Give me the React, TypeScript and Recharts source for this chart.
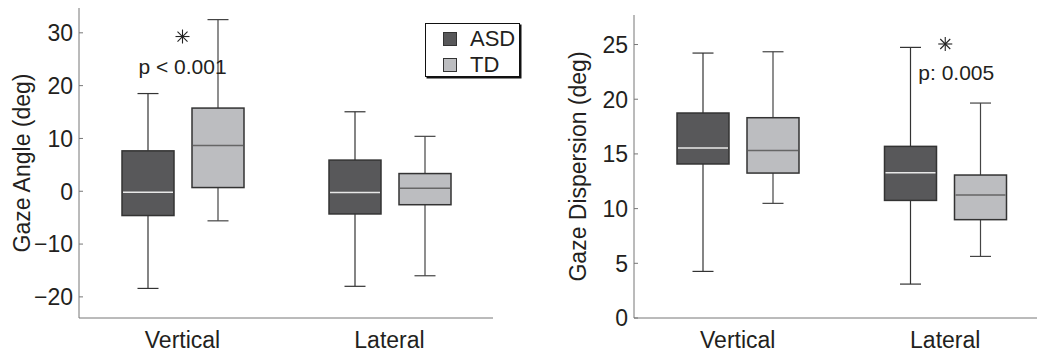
import { BarChart, Bar, XAxis, YAxis, ReferenceDot } from 'recharts'

// box stats per category: [min, q1, median, q3, max]
const categories = ['Vertical', 'Lateral']

const angleAsd = [
  [-18.4, -4.6, -0.2, 7.65, 18.5],
  [-18.0, -4.3, -0.25, 5.9, 15.05],
]
const angleTd = [
  [-5.6, 0.7, 8.65, 15.75, 32.5],
  [-16.0, -2.55, 0.55, 3.35, 10.4],
]
const dispAsd = [
  [4.26, 14.08, 15.54, 18.74, 24.22],
  [3.1, 10.75, 13.28, 15.69, 24.74],
]
const dispTd = [
  [10.48, 13.25, 15.32, 18.31, 24.34],
  [5.63, 8.99, 11.24, 13.07, 19.65],
]

const angleTicks = [-20, -10, 0, 10, 20, 30]
const dispTicks = [0, 5, 10, 15, 20, 25]

const groups = ['ASD', 'TD']

// significance markers: category, star value, p text, text value
const angleSig = [{ cat: 'Vertical', star: 29.3, text: 'p < 0.001', textY: 22.2 }]
const dispSig = [{ cat: 'Lateral', star: 25.05, text: 'p: 0.005', textY: 21.75 }]

const FONT = '"Liberation Sans", Arial, sans-serif'
const INK = '#231f20'
const ASD_FILL = '#58585a'
const TD_FILL = '#bcbdc0'
const AXIS = '#777'

function buildRows(asd: number[][], td: number[][]) {
  return categories.map((c, i) => ({
    cat: c,
    asd: [asd[i][0], asd[i][4]],
    td: [td[i][0], td[i][4]],
    asdStats: asd[i],
    tdStats: td[i],
  }))
}

function BoxShape(props: any) {
  const { x, y, width, height, payload, statsKey, fill, median, whisker } = props
  const [mn, q1, med, q3, mx] = payload[statsKey] as number[]
  const py = (v: number) => y + ((mx - v) / (mx - mn)) * height
  const cx = x + width / 2
  const cap = 10.5
  return (
    <g>
      <line x1={cx} x2={cx} y1={py(mx)} y2={py(q3)} stroke={whisker} strokeWidth={1.2} />
      <line x1={cx} x2={cx} y1={py(q1)} y2={py(mn)} stroke={whisker} strokeWidth={1.2} />
      <line x1={cx - cap} x2={cx + cap} y1={py(mx)} y2={py(mx)} stroke={whisker} strokeWidth={1.2} />
      <line x1={cx - cap} x2={cx + cap} y1={py(mn)} y2={py(mn)} stroke={whisker} strokeWidth={1.2} />
      <rect x={x} y={py(q3)} width={width} height={py(q1) - py(q3)} fill={fill} stroke="#333" strokeWidth={1.5} />
      <line x1={x + 1} x2={x + width - 1} y1={py(med)} y2={py(med)} stroke={median} strokeWidth={1.5} />
    </g>
  )
}

function YTick(props: any) {
  const { x, y, payload } = props
  const label = payload.value < 0 ? `\u2212${Math.abs(payload.value)}` : `${payload.value}`
  return (
    <g>
      <line x1={x + 6} x2={x + 10} y1={y} y2={y} stroke={AXIS} strokeWidth={1} />
      <text x={x} y={y} dy="0.36em" textAnchor="end" fontFamily={FONT} fontSize={23} fill={INK}>
        {label}
      </text>
    </g>
  )
}

function XTick(props: any) {
  const { x, y, payload } = props
  return (
    <text x={x} y={y + 30} textAnchor="middle" fontFamily={FONT} fontSize={23} fill={INK}>
      {payload.value}
    </text>
  )
}

function YLabel(props: any) {
  const { viewBox, text, dx } = props
  const cx = viewBox.x + dx
  const cy = viewBox.y + viewBox.height / 2
  return (
    <text
      x={cx}
      y={cy}
      transform={`rotate(-90, ${cx}, ${cy})`}
      textAnchor="middle"
      dominantBaseline="central"
      fontFamily={FONT}
      fontSize={23}
      fill={INK}
    >
      {text}
    </text>
  )
}

function Star(props: any) {
  const { cx, cy } = props
  const r = 7
  const d = 5
  return (
    <g stroke="#222" strokeWidth={1.1}>
      <line x1={cx - r} x2={cx + r} y1={cy} y2={cy} />
      <line x1={cx} x2={cx} y1={cy - r} y2={cy + r} />
      <line x1={cx - d} x2={cx + d} y1={cy - d} y2={cy + d} />
      <line x1={cx - d} x2={cx + d} y1={cy + d} y2={cy - d} />
    </g>
  )
}

function PText(props: any) {
  const { cx, cy, text, dx } = props
  return (
    <text x={cx + dx} y={cy} textAnchor="middle" fontFamily={FONT} fontSize={21} fill={INK}>
      {text}
    </text>
  )
}

function LegendBox() {
  const fills = [ASD_FILL, TD_FILL]
  return (
    <div
      style={{
        position: 'absolute',
        left: 425,
        top: 23,
        width: 95,
        height: 54,
        border: '1px solid #111',
        boxShadow: '1.5px 1.5px 0 #111',
        background: '#fff',
        boxSizing: 'border-box',
      }}
    >
      {groups.map((g, i) => (
        <div key={g} style={{ position: 'absolute', left: 17, top: 7 + i * 25.5, height: 16, display: 'flex', alignItems: 'center' }}>
          <span style={{ width: 12, height: 12, background: fills[i], border: '1px solid #333', display: 'inline-block' }} />
          <span style={{ marginLeft: 13, fontFamily: FONT, fontSize: 22, color: INK, lineHeight: '16px' }}>{g}</span>
        </div>
      ))}
    </div>
  )
}

interface PanelProps {
  rows: any[]
  width: number
  yWidth: number
  top: number
  right: number
  domain: [number, number]
  ticks: number[]
  label: string
  labelDx: number
  sig: { cat: string; star: number; text: string; textY: number }[]
  textDx: number
}

function Panel({ rows, width, yWidth, top, right, domain, ticks, label, labelDx, sig, textDx }: PanelProps) {
  return (
    <BarChart
      width={width}
      height={354}
      data={rows}
      margin={{ top, right, bottom: 0, left: 0 }}
      barSize={52}
      barGap={18}
    >
      <XAxis
        dataKey="cat"
        height={36}
        tickLine={false}
        tickSize={0}
        tickMargin={0}
        stroke={AXIS}
        tick={<XTick />}
        interval={0}
      />
      <YAxis
        type="number"
        domain={domain}
        ticks={ticks}
        width={yWidth}
        tickLine={false}
        tickSize={0}
        tickMargin={6}
        stroke={AXIS}
        tick={<YTick />}
        label={<YLabel text={label} dx={labelDx} />}
      />
      <Bar
        dataKey="asd"
        name={groups[0]}
        fill={ASD_FILL}
        isAnimationActive={false}
        shape={(p: any) => <BoxShape {...p} statsKey="asdStats" fill={ASD_FILL} median="#e8e8e8" whisker="#333" />}
      />
      <Bar
        dataKey="td"
        name={groups[1]}
        fill={TD_FILL}
        isAnimationActive={false}
        shape={(p: any) => <BoxShape {...p} statsKey="tdStats" fill={TD_FILL} median="#666" whisker="#444" />}
      />
      {sig.map(s => (
        <ReferenceDot key={s.cat + 'star'} x={s.cat} y={s.star} r={7} shape={<Star />} />
      ))}
      {sig.map(s => (
        <ReferenceDot key={s.cat + 'text'} x={s.cat} y={s.textY} r={1} shape={<PText text={s.text} dx={textDx} />} />
      ))}
    </BarChart>
  )
}

export default function App() {
  const angleRows = buildRows(angleAsd, angleTd)
  const dispRows = buildRows(dispAsd, dispTd)
  return (
    <div style={{ position: 'absolute', left: 0, top: 0, width: 1037, height: 354, overflow: 'hidden', background: '#fff' }}>
      <div style={{ position: 'absolute', left: 520, top: 0 }}>
        <Panel
          rows={dispRows}
          width={540}
          yWidth={114}
          top={15}
          right={11}
          domain={[0, 27.7]}
          ticks={dispTicks}
          label="Gaze Dispersion (deg)"
          labelDx={58}
          sig={dispSig}
          textDx={11}
        />
      </div>
      <div style={{ position: 'absolute', left: 0, top: 0 }}>
        <Panel
          rows={angleRows}
          width={520}
          yWidth={79}
          top={8}
          right={27}
          domain={[-24, 34.7]}
          ticks={angleTicks}
          label="Gaze Angle (deg)"
          labelDx={22}
          sig={angleSig}
          textDx={0}
        />
      </div>
      <LegendBox />
    </div>
  )
}
